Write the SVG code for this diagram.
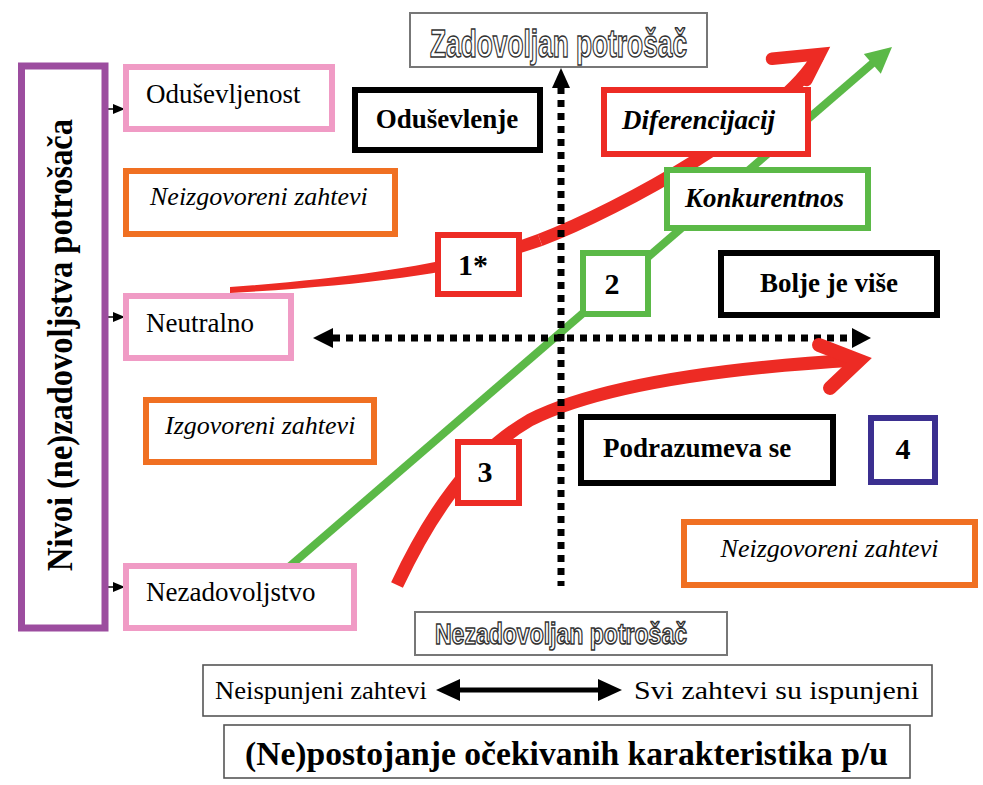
<svg xmlns="http://www.w3.org/2000/svg" width="983" height="785" viewBox="0 0 983 785">
<style>
.box{fill:#fff;stroke-width:6}
.pink{stroke:#f09bc5}
.orange{stroke:#f07022}
.red{stroke:#ed2b24}
.green{stroke:#5bb947}
.black{stroke:#000}
.blue{stroke:#3b2f90}
.thin{fill:#fff;stroke:#555;stroke-width:1.6}
.lblbox{fill:#fff;stroke:#777;stroke-width:2}
.t{font-family:"Liberation Serif","Times New Roman",serif;fill:#000}
.reg{font-size:27px}
.it{font-size:26px;font-style:italic}
.b{font-size:27px;font-weight:bold}
.bi{font-size:27px;font-weight:bold;font-style:italic}
.num{font-size:30px;font-weight:bold;text-anchor:middle}
.lbl{font-family:"Liberation Sans",Arial,sans-serif;font-weight:bold;fill:#fff;stroke:#333;stroke-width:1.5}
.axis{stroke:#000;stroke-width:7;stroke-dasharray:7 6;fill:none}
.rc{fill:none;stroke:#ed2b24}
.head{fill:none;stroke:#ed2b24;stroke-linecap:round;stroke-linejoin:miter}
</style>
<rect width="983" height="785" fill="#fff"/>
<g id="connectors">
  <line x1="290" y1="566" x2="874" y2="62" stroke="#5bb947" stroke-width="8"/>
  <polygon points="892,47 863.8,54 880.8,73.8" fill="#5bb947"/>
  <path d="M230,287 C380,276 468,259.5 537.8,233.9 L542.2,246.1 C472,271 380,284.5 230,293 Z" fill="#ed2b24"/>
  <path class="rc" d="M540,240 C620,210 785,118 818,56" stroke-width="13"/>
  <path class="rc" d="M397,585 C430,515 470,455 530,420 C600,385 720,368 858,360" stroke-width="13"/>
  <line class="axis" x1="561" y1="87" x2="561" y2="586"/>
  <polygon points="561,68 552,88 570,88" fill="#000"/>
  <line class="axis" x1="333" y1="338" x2="852" y2="338"/>
  <polygon points="313,338 333,328 333,348" fill="#000"/>
  <polygon points="871,338 852,328 852,348" fill="#000"/>
  <polyline class="head" points="772,58.8 819.5,54.1 806.4,80" stroke-width="12.5"/>
  <polyline class="head" points="819,345 859,360.5 830,388" stroke-width="14"/>
  <g stroke="#000" stroke-width="1.5" fill="#000">
    <line x1="105" y1="109" x2="114" y2="109"/>
    <polygon points="113,104 125,109 113,114" stroke="none"/>
    <line x1="105" y1="317" x2="114" y2="317"/>
    <polygon points="113,312 125,317 113,322" stroke="none"/>
    <line x1="105" y1="587" x2="114" y2="587"/>
    <polygon points="113,582 125,587 113,592" stroke="none"/>
  </g>
</g>
<g id="nivoi">
  <rect x="21.5" y="66" width="83.5" height="562" fill="#fff" stroke="#9c4d9f" stroke-width="7"/>
  <text class="t" transform="translate(72,345) rotate(-90)" text-anchor="middle" font-size="35" font-weight="bold" textLength="452" lengthAdjust="spacingAndGlyphs">Nivoi (ne)zadovoljstva potrošača</text>
</g>
<g id="odusevljenost">
  <rect class="box pink" x="126" y="67" width="206" height="62"/>
  <text class="t reg" x="146" y="103">Oduševljenost</text>
</g>
<g id="neizgovoreni1">
  <rect class="box orange" x="126" y="171" width="269" height="63"/>
  <text class="t it" x="150" y="205">Neizgovoreni zahtevi</text>
</g>
<g id="neutralno">
  <rect class="box pink" x="126" y="296" width="165" height="62"/>
  <text class="t reg" x="146" y="332">Neutralno</text>
</g>
<g id="izgovoreni">
  <rect class="box orange" x="146" y="400" width="228" height="62"/>
  <text class="t it" x="165" y="434">Izgovoreni zahtevi</text>
</g>
<g id="nezadovoljstvo">
  <rect class="box pink" x="126" y="566" width="228" height="62"/>
  <text class="t reg" x="146" y="601">Nezadovoljstvo</text>
</g>
<g id="zadovoljan">
  <rect class="lblbox" x="410" y="13" width="297" height="54"/>
  <text class="lbl" x="430" y="57" font-size="38" textLength="257" lengthAdjust="spacingAndGlyphs">Zadovoljan potrošač</text>
</g>
<g id="nezadovoljan">
  <rect class="lblbox" x="415" y="612" width="312" height="43"/>
  <text class="lbl" x="435" y="644" font-size="29" textLength="252" lengthAdjust="spacingAndGlyphs">Nezadovoljan potrošač</text>
</g>
<g id="odusevlenje">
  <rect class="box black" x="355" y="90" width="185" height="60"/>
  <text class="t b" x="447" y="128" text-anchor="middle">Oduševlenje</text>
</g>
<g id="diferencijacij">
  <rect class="box red" x="604" y="90" width="204" height="64"/>
  <text class="t bi" x="622" y="129">Diferencijacij</text>
</g>
<g id="konkurentnos">
  <rect class="box green" x="667" y="170" width="201" height="58"/>
  <text class="t bi" x="685" y="207">Konkurentnos</text>
</g>
<g id="n1">
  <rect class="box red" x="438" y="235" width="81" height="59"/>
  <text class="t num" x="473" y="275">1*</text>
</g>
<g id="n2">
  <rect class="box green" x="583" y="253" width="65" height="61"/>
  <text class="t num" x="612" y="294">2</text>
</g>
<g id="bolje">
  <rect class="box black" x="721" y="253" width="216" height="62"/>
  <text class="t b" x="829" y="292" text-anchor="middle">Bolje je više</text>
</g>
<g id="n3">
  <rect class="box red" x="458" y="442" width="61" height="61"/>
  <text class="t num" x="485" y="482">3</text>
</g>
<g id="podrazumeva">
  <rect class="box black" x="581" y="417" width="252" height="66"/>
  <text class="t b" x="603" y="457">Podrazumeva se</text>
</g>
<g id="n4">
  <rect class="box blue" x="871" y="418" width="64" height="64"/>
  <text class="t num" x="903" y="459" font-size="24">4</text>
</g>
<g id="neizgovoreni2">
  <rect class="box orange" x="684" y="522" width="291" height="63"/>
  <text class="t it" x="829.5" y="557" text-anchor="middle">Neizgovoreni zahtevi</text>
</g>
<g id="zahtevi">
  <rect class="thin" x="203" y="665" width="729" height="51"/>
  <text class="t" x="215" y="699" font-size="26" textLength="212" lengthAdjust="spacingAndGlyphs">Neispunjeni zahtevi</text>
  <line x1="455" y1="690" x2="603" y2="690" stroke="#000" stroke-width="5"/>
  <polygon points="436,690 460,679 460,701" fill="#000"/>
  <polygon points="622,690 598,679 598,701" fill="#000"/>
  <text class="t" x="634" y="699" font-size="26" textLength="285" lengthAdjust="spacingAndGlyphs">Svi zahtevi su ispunjeni</text>
</g>
<g id="postojanje">
  <rect class="thin" x="224" y="725" width="686" height="53"/>
  <text class="t" x="245" y="765" font-size="34" font-weight="bold" textLength="643" lengthAdjust="spacingAndGlyphs">(Ne)postojanje očekivanih karakteristika p/u</text>
</g>
</svg>
